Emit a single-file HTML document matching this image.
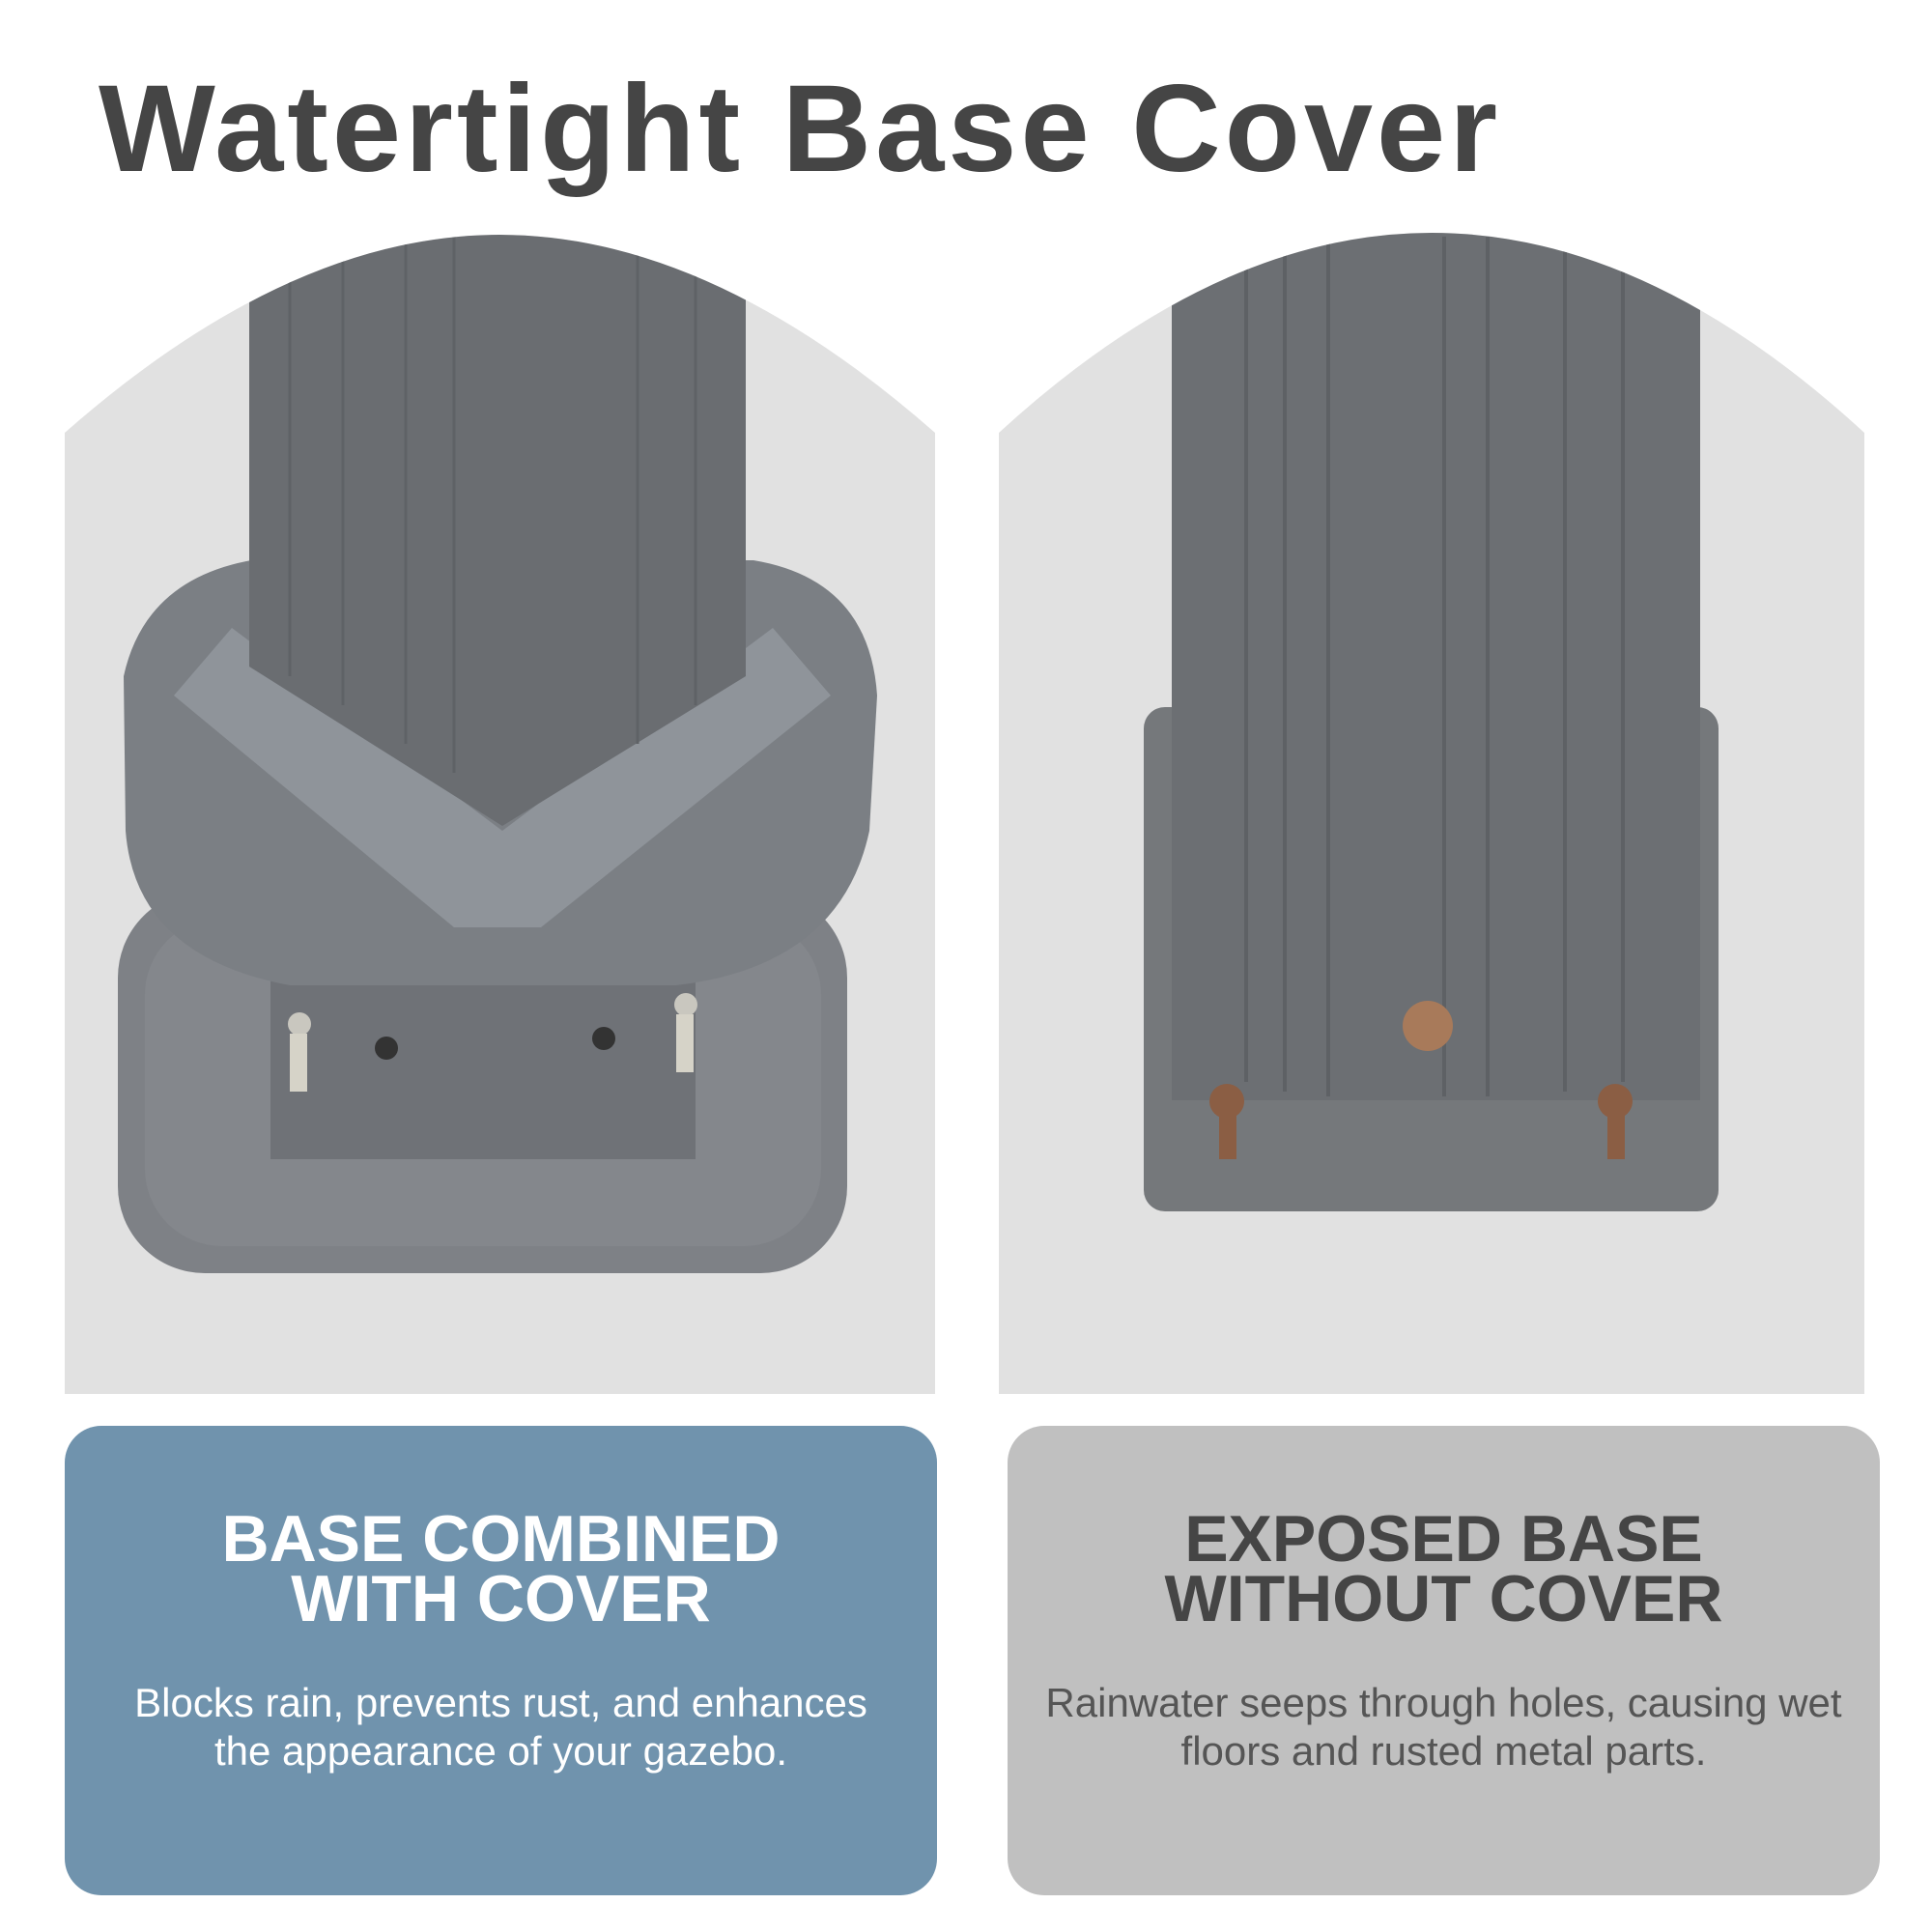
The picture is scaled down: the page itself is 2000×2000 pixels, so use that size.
<!DOCTYPE html>
<html><head><meta charset="utf-8"><style>
html,body{margin:0;padding:0;background:#fff;}
body{width:2000px;height:2000px;position:relative;overflow:hidden;font-family:"Liberation Sans",sans-serif;}
.title{position:absolute;left:102px;top:60px;font-size:128px;font-weight:bold;color:#454545;letter-spacing:4px;white-space:nowrap;}
.box{position:absolute;top:1476px;height:486px;border-radius:38px;text-align:center;}
.box h2{margin:0;position:absolute;left:0;right:0;top:86px;font-size:68px;line-height:62px;font-weight:bold;letter-spacing:0px;}
.box p{margin:0;position:absolute;left:0;right:0;top:262px;font-size:42px;line-height:50px;}
</style></head><body>
<div class="title">Watertight Base Cover</div>
<svg width="2000" height="1450" style="position:absolute;left:0;top:0">
<defs>
<clipPath id="cl"><path d="M67,448 Q300,243 517,243 Q735,243 968,448 L968,1443 L67,1443 Z"/></clipPath>
<clipPath id="cr"><path d="M1034,448 Q1260,241 1482,241 Q1705,241 1930,448 L1930,1443 L1034,1443 Z"/></clipPath>
</defs>
<g clip-path="url(#cl)">
<rect x="0" y="0" width="2000" height="1443" fill="#e1e1e1"/>
<rect x="122" y="922" width="755" height="396" rx="90" fill="#7e8186"/>
<rect x="150" y="950" width="700" height="340" rx="80" fill="#84878c"/>
<rect x="280" y="880" width="440" height="320" fill="#6f7277"/>
<path d="M128,700 Q150,600 260,580 L780,580 Q900,600 908,720 L900,860 Q870,1000 700,1020 L300,1020 Q140,990 130,860 Z" fill="#7b7f84"/>
<path d="M180,720 L240,650 L520,860 L800,650 L860,720 L560,960 L470,960 Z" fill="#8f949a"/>
<path d="M258,250 Q400,243 520,243 Q650,243 772,300 L772,700 L520,855 L258,690 Z" fill="#6a6d71"/>
<g stroke="#5f6266" stroke-width="3" fill="none">
<line x1="300" y1="260" x2="300" y2="700"/><line x1="355" y1="250" x2="355" y2="730"/>
<line x1="420" y1="245" x2="420" y2="770"/><line x1="470" y1="245" x2="470" y2="800"/>
<line x1="660" y1="260" x2="660" y2="770"/><line x1="720" y1="280" x2="720" y2="730"/>
</g>
<circle cx="310" cy="1060" r="12" fill="#c9c7bf"/><rect x="300" y="1070" width="18" height="60" fill="#d6d3c8"/>
<circle cx="710" cy="1040" r="12" fill="#c9c7bf"/><rect x="700" y="1050" width="18" height="60" fill="#d6d3c8"/>
<circle cx="400" cy="1085" r="12" fill="#333"/><circle cx="625" cy="1075" r="12" fill="#333"/>
</g>
<g clip-path="url(#cr)">
<rect x="0" y="0" width="2000" height="1443" fill="#e1e1e1"/>
<rect x="1184" y="732" width="595" height="522" rx="22" fill="#75787b"/>
<rect x="1213" y="241" width="547" height="898" fill="#6c6f73"/>
<g stroke="#5e6165" stroke-width="4" fill="none">
<line x1="1290" y1="260" x2="1290" y2="1120"/><line x1="1330" y1="250" x2="1330" y2="1130"/>
<line x1="1375" y1="245" x2="1375" y2="1135"/><line x1="1495" y1="245" x2="1495" y2="1135"/>
<line x1="1540" y1="245" x2="1540" y2="1135"/><line x1="1620" y1="260" x2="1620" y2="1130"/>
<line x1="1680" y1="280" x2="1680" y2="1120"/>
</g>
<circle cx="1478" cy="1062" r="26" fill="#a87a5a"/>
<circle cx="1270" cy="1140" r="18" fill="#8b5e44"/><rect x="1262" y="1150" width="18" height="50" fill="#8b5e44"/>
<circle cx="1672" cy="1140" r="18" fill="#8b5e44"/><rect x="1664" y="1150" width="18" height="50" fill="#8b5e44"/>
</g>
</svg>
<div class="box" style="left:67px;width:903px;background:#7093ad;color:#fff;">
<h2>BASE COMBINED<br>WITH COVER</h2>
<p>Blocks rain, prevents rust, and enhances<br>the appearance of your gazebo.</p>
</div>
<div class="box" style="left:1043px;width:903px;background:#c0c0c0;color:#454545;">
<h2>EXPOSED BASE<br>WITHOUT COVER</h2>
<p style="color:#555">Rainwater seeps through holes, causing wet<br>floors and rusted metal parts.</p>
</div>
</body></html>
